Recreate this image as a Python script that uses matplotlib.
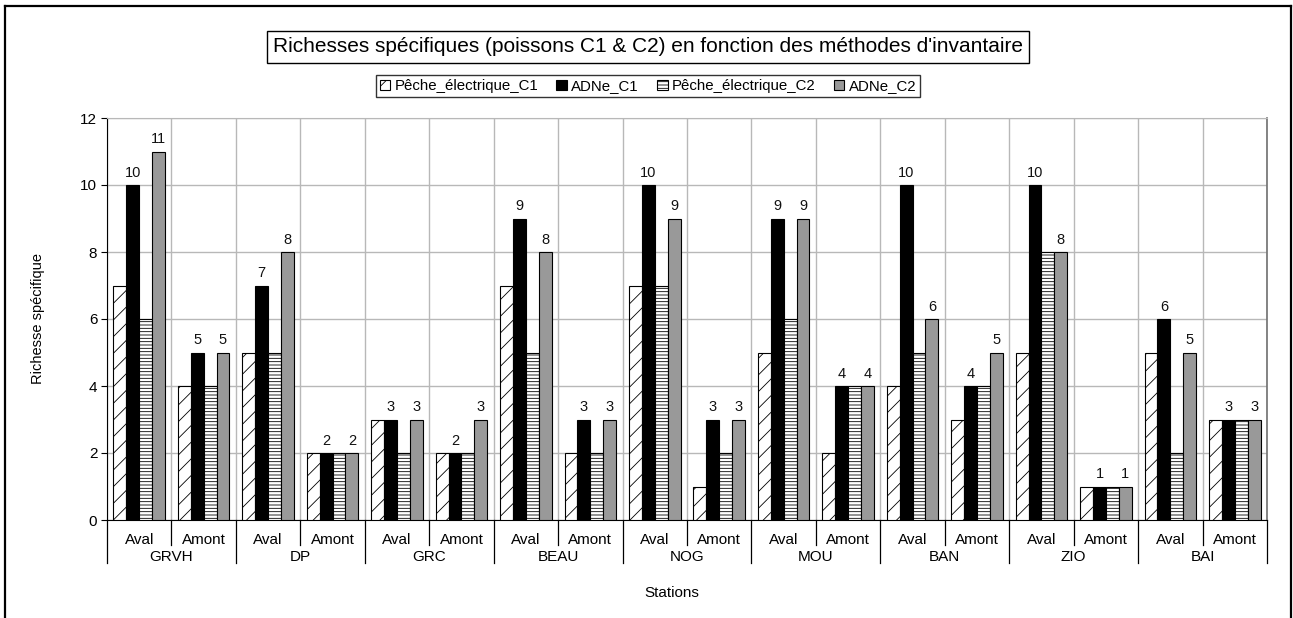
import matplotlib
matplotlib.use("Agg")
import matplotlib.pyplot as plt
import matplotlib.patches as mpatches
from matplotlib.lines import Line2D
import numpy as np

plt.rcParams['font.family'] = ['Liberation Sans', 'DejaVu Sans']
plt.rcParams['hatch.linewidth'] = 0.6

stations = ["GRVH", "DP", "GRC", "BEAU", "NOG", "MOU", "BAN", "ZIO", "BAI"]
positions = ["Aval", "Amont"]

peche_c1 = [7, 4, 5, 2, 3, 2, 7, 2, 7, 1, 5, 2, 4, 3, 5, 1, 5, 3]
adne_c1 = [10, 5, 7, 2, 3, 2, 9, 3, 10, 3, 9, 4, 10, 4, 10, 1, 6, 3]
peche_c2 = [6, 4, 5, 2, 2, 2, 5, 2, 7, 2, 6, 4, 5, 4, 8, 1, 2, 3]
adne_c2 = [11, 5, 8, 2, 3, 3, 8, 3, 9, 3, 9, 4, 6, 5, 8, 1, 5, 3]

series_names = ["Pêche_électrique_C1", "ADNe_C1", "Pêche_électrique_C2", "ADNe_C2"]
series_values = [peche_c1, adne_c1, peche_c2, adne_c2]
series_face = ["white", "black", "white", "#999999"]
series_hatch = ["//", None, "-----", None]
series_labelled = [False, True, False, True]

W, H = 1293, 618
fig = plt.figure(figsize=(W / 100, H / 100), dpi=100)
fy = lambda py: 1 - py / H

# outer frame (open at the bottom)
for xs, ys in [([5, 5], [H, 6]), ([5, 1291], [6, 6]), ([1291, 1291], [6, H])]:
    fig.add_artist(Line2D([x / W for x in xs], [fy(y) for y in ys], color="black",
                          lw=1.6, transform=fig.transFigure))

x0, x1, ytop, ybot = 107, 1267, 118, 520
ax = fig.add_axes([x0 / W, 1 - ybot / H, (x1 - x0) / W, (ybot - ytop) / H])

n = len(peche_c1)
centers = np.arange(n) + 0.5
bw = 0.2
offsets = [-0.3, -0.1, 0.1, 0.3]

for vals, face, hatch, lab, off, name in zip(series_values, series_face, series_hatch,
                                            series_labelled, offsets, series_names):
    bars = ax.bar(centers + off, vals, width=bw, color=face, edgecolor="black",
                  linewidth=0.8, hatch=hatch, label=name, zorder=3)
    if lab:
        for b, v in zip(bars, vals):
            ax.text(b.get_x() + b.get_width() / 2, v + 0.15, str(v), ha="center",
                    va="bottom", fontsize=10.5, color="#111111", zorder=4)

ax.set_xlim(0, n)
ax.set_ylim(0, 12)
ax.set_yticks(np.arange(0, 13, 2))
ax.tick_params(axis="y", labelsize=11, length=4, width=0.8, pad=3)
ax.set_xticks([])
ax.set_xticks(np.arange(0, n + 1), minor=True)
ax.tick_params(axis="x", which="minor", length=0)
ax.grid(axis="y", color="#b8b8b8", lw=1.0, zorder=0)
ax.grid(axis="x", which="minor", color="#b8b8b8", lw=1.0, zorder=0)
ax.spines["left"].set_color("black")
ax.spines["bottom"].set_color("black")
ax.spines["top"].set_color("#b8b8b8")
ax.spines["right"].set_color("#707070")
ax.spines["right"].set_linewidth(1.2)

# two-level category axis
tr = ax.get_xaxis_transform()
to_ax = lambda py: (ybot - py) / (ybot - ytop)
for i in range(n + 1):
    y_end = 563 if i % 2 == 0 else 545
    ax.add_line(Line2D([i, i], [0, to_ax(y_end)], color="black", lw=0.9,
                       transform=tr, clip_on=False))
for i, c in enumerate(centers):
    ax.text(c, to_ax(540), positions[i % 2], transform=tr,
            ha="center", va="center", fontsize=11)
for j, s in enumerate(stations):
    ax.text(2 * j + 1, to_ax(557), s, transform=tr,
            ha="center", va="center", fontsize=11)

fig.text(672 / W, fy(593), "Stations", ha="center", va="center", fontsize=11)
fig.text(38 / W, fy(319), "Richesse spécifique", ha="center", va="center",
         rotation=90, fontsize=10.5)

fig.text(648 / W, fy(47), "Richesses spécifiques (poissons C1 & C2) en fonction des méthodes d'invantaire",
         ha="center", va="center", fontsize=15,
         bbox=dict(boxstyle="square,pad=0.3", facecolor="white", edgecolor="black", lw=1.0))

handles = [mpatches.Patch(facecolor=f, edgecolor="black", hatch=h, lw=0.8)
           for f, h in zip(series_face, series_hatch)]
leg = fig.legend(handles, series_names, loc="center", bbox_to_anchor=(648 / W, fy(86)),
                 ncol=4, fontsize=10.8, frameon=True, fancybox=False, edgecolor="black",
                 handlelength=0.7, handleheight=0.7, handletextpad=0.3,
                 columnspacing=1.2, borderpad=0.25, borderaxespad=0)
leg.get_frame().set_linewidth(1.0)

fig.savefig("out.png", dpi=100)
